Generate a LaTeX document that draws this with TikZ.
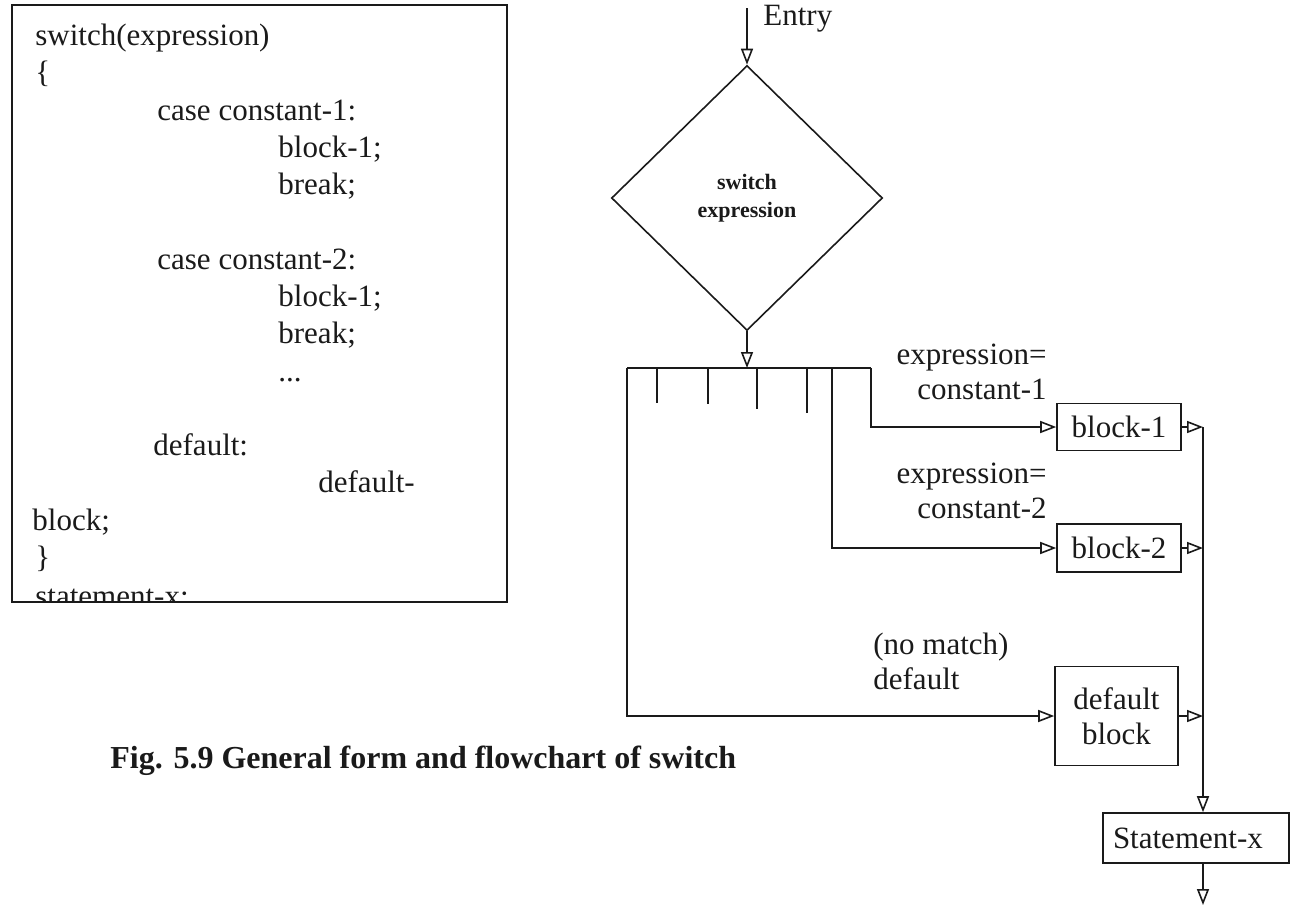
\documentclass[tikz,border=0pt]{standalone}
\usepackage{fontspec}
\setmainfont{Liberation Serif}
\usepackage{tikz}
\usetikzlibrary{shapes.geometric,arrows.meta,positioning}
\definecolor{ink}{HTML}{1A1A1A}
\tikzset{
  base/.style={draw=ink, line width=0.8pt},
  flow/.style={base, -{Triangle[open,length=8pt,width=6pt]}},
  codetxt/.style={text=ink, anchor=base west, inner sep=0pt, font=\fontsize{15.5}{18}\selectfont},
  lab/.style={text=ink, inner sep=0pt, font=\fontsize{15.5}{17.5}\selectfont},
  blk/.style={base, rectangle, inner sep=0pt, text=ink, font=\fontsize{15.5}{17.5}\selectfont},
  decide/.style={base, diamond, inner sep=0pt, minimum width=135.5pt, minimum height=132.5pt,
    align=center, text=ink, font=\bfseries\fontsize{11}{14}\selectfont},
}

\begin{document}
\begin{tikzpicture}[x=0.5pt, y=-0.5pt]
  \useasboundingbox (0,0) rectangle (1292,906);

  % general form of the statement
  \draw[base] (12,5) rectangle (507,602);
  \begin{scope}
    \clip (12,5) rectangle (507,602);
    \node[codetxt] (c1)  at (35,45)   {switch(expression)};
    \node[codetxt] (c2)  at (35,82)   {\{};
    \node[codetxt] (c3)  at (157,120) {case constant-1:};
    \node[codetxt] (c4)  at (278,157) {block-1;};
    \node[codetxt] (c5)  at (278,194) {break;};
    \node[codetxt] (c6)  at (157,269) {case constant-2:};
    \node[codetxt] (c7)  at (278,306) {block-1;};
    \node[codetxt] (c8)  at (278,343) {break;};
    \node[codetxt] (c9)  at (278,381) {...};
    \node[codetxt] (c10) at (153,455) {default:};
    \node[codetxt] (c11) at (318,492) {default-};
    \node[codetxt] (c12) at (32,530)  {block;};
    \node[codetxt] (c13) at (35,567)  {\}};
    \node[codetxt] (c14) at (35,606)  {statement-x:};
  \end{scope}

  \node[anchor=base west, text=ink, inner sep=0pt, font=\bfseries\fontsize{16}{18}\selectfont] (cap)
    at (110,768) {Fig. 5.9 General form and flowchart of switch};

  % flowchart
  \coordinate (entry) at (747,8);
  \node[decide] (sw) at (747,198) {switch\\expression};
  \node[lab, anchor=base west] (entrylab) at (763,25) {Entry};
  \draw[flow] (entry) -- (sw.north);

  \coordinate (busL) at (627,368);
  \coordinate (busR) at (871,368);
  \coordinate (tap2) at (832,368);
  \draw[flow] (sw.south) -- (sw.south |- busL);
  \draw[base] (busL) -- (busR);
  \foreach \x/\y in {657/403,708/404,757/409,807/413}
    \draw[base] (\x,368) -- (\x,\y);

  \node[blk, minimum width=62pt, minimum height=23.5pt] (b1) at (1119,427) {block-1};
  \node[blk, minimum width=62pt, minimum height=24pt] (b2) at (1119,548) {block-2};
  \node[blk, minimum width=61.5pt, minimum height=49.5pt, align=center] (db) at (1116.5,716) {default\\block};
  \node[blk, minimum height=25pt, inner xsep=5pt, text width=83pt, align=left] (sx) at (1196,838) {Statement-x};

  \node[lab, anchor=east, align=right] (m1) at (1047,372) {expression=\\constant-1};
  \node[lab, anchor=east, align=right] (m2) at (1047,491) {expression=\\constant-2};
  \node[lab, anchor=west, align=left] (m3) at (873,661) {(no match)\\default};

  \draw[flow] (busR) |- (b1.west);
  \draw[flow] (tap2) |- (b2.west);
  \draw[flow] (busL) |- (db.west);

  \coordinate (col) at (1203,427);
  \coordinate (exit) at (1203,905);
  \draw[flow] (b1.east) -- (b1.east -| col);
  \draw[flow] (b2.east) -- (b2.east -| col);
  \draw[flow] (db.east) -- (db.east -| col);
  \draw[flow] (col) -- (col |- sx.north);
  \draw[flow] (col |- sx.south) -- (exit);
\end{tikzpicture}
\end{document}
